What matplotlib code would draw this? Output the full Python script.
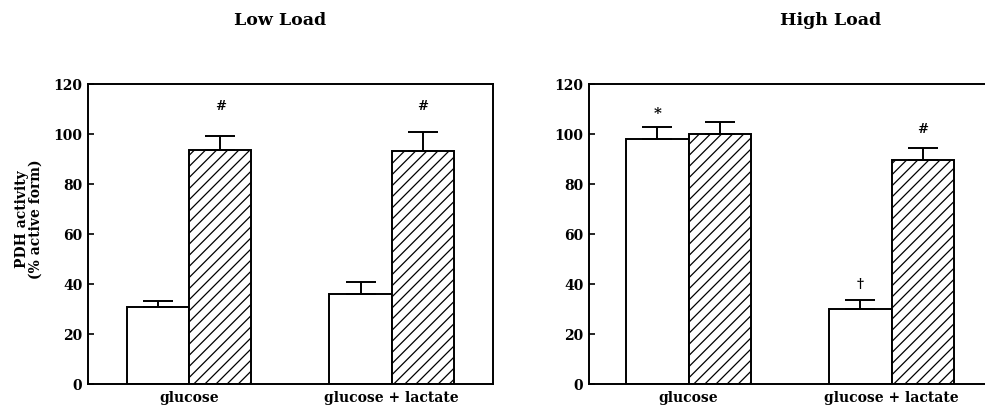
import numpy as np
import matplotlib.pyplot as plt

plt.rcParams['font.family'] = ['DejaVu Serif']
plt.rcParams['font.weight'] = 'bold'
plt.rcParams['hatch.linewidth'] = 0.9

groups = ['glucose', 'glucose + lactate']

# Low load panel
low_open = [30.7, 36.2]
low_open_err = [2.6, 4.8]
low_hatch = [93.6, 93.4]
low_hatch_err = [5.6, 7.6]

# High load panel
high_open = [98.0, 30.0]
high_open_err = [4.9, 3.8]
high_hatch = [100.0, 89.6]
high_hatch_err = [5.0, 4.9]

low_marks = [('#', 1, 0, 111), ('#', 1, 1, 111)]
high_marks = [('*', 0, 0, 108), ('\u2020', 0, 1, 40), ('#', 1, 1, 102)]

fig = plt.figure(figsize=(9.85, 4.18), dpi=100)
ax1 = fig.add_axes([0.0893, 0.0813, 0.411, 0.7177])
ax2 = fig.add_axes([0.598, 0.0813, 0.402, 0.7177])

w = 0.307
x = np.arange(len(groups))

def draw_panel(ax, open_vals, open_err, hatch_vals, hatch_err, marks, right_spine):
    ax.bar(x - w / 2, open_vals, w, color='white', edgecolor='black', linewidth=1.4, zorder=2)
    ax.bar(x + w / 2, hatch_vals, w, color='white', edgecolor='black', linewidth=1.4,
           hatch='///', zorder=2)
    ax.errorbar(x - w / 2, open_vals, yerr=[np.zeros(len(x)), open_err], fmt='none',
                ecolor='black', elinewidth=1.4, capsize=11, capthick=1.4, zorder=3)
    ax.errorbar(x + w / 2, hatch_vals, yerr=[np.zeros(len(x)), hatch_err], fmt='none',
                ecolor='black', elinewidth=1.4, capsize=11, capthick=1.4, zorder=3)
    for sym, series, grp, yv in marks:
        xp = x[grp] + (w / 2 if series == 1 else -w / 2)
        fs = 11 if sym == '*' else 9.5
        ax.text(xp, yv, sym, ha='center', va='center', fontsize=fs, fontweight='bold')
    ax.set_ylim(0, 120)
    ax.set_yticks([0, 20, 40, 60, 80, 100, 120])
    ax.set_xticks(x)
    ax.set_xticklabels(groups, fontsize=10, fontweight='bold')
    ax.tick_params(axis='x', length=0, pad=5)
    ax.tick_params(axis='y', direction='in', length=4, width=1.2, labelsize=10, pad=4)
    for s in ax.spines.values():
        s.set_linewidth(1.4)
    ax.spines['right'].set_visible(right_spine)

draw_panel(ax1, low_open, low_open_err, low_hatch, low_hatch_err, low_marks, True)
ax1.set_xlim(-0.5, 1.5)
draw_panel(ax2, high_open, high_open_err, high_hatch, high_hatch_err, high_marks, False)
ax2.set_xlim(-0.49, 1.46)

ax1.set_ylabel('PDH activity\n(% active form)', fontsize=10, fontweight='bold',
               linespacing=0.95)
ax1.yaxis.set_label_coords(-0.112, 0.55)

fig.text(0.284, 0.952, 'Low Load', ha='center', va='center', fontsize=12.5, fontweight='bold')
fig.text(0.843, 0.952, 'High Load', ha='center', va='center', fontsize=12.5, fontweight='bold')

fig.savefig('out.png', dpi=100)
